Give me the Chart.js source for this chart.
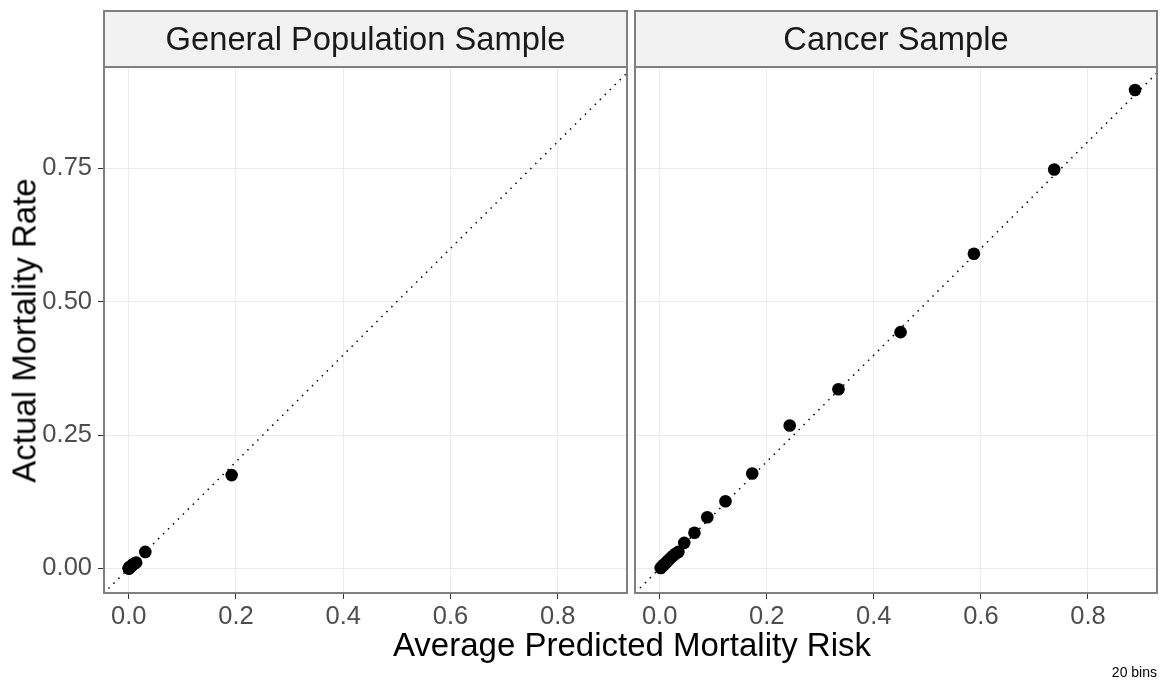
<!DOCTYPE html>
<html lang="en">
<head>
    <meta charset="UTF-8">
    <title>Calibration by Sample</title>
    <script src="https://cdn.jsdelivr.net/npm/chart.js"></script>
    <style>
        body {
            margin: 0;
            width: 1160px;
            height: 681px;
            position: relative;
            overflow: hidden;
            background: #ffffff;
            font-family: "Liberation Sans", Arial, sans-serif;
        }
        .panel { position: absolute; top: 0; height: 681px; }
        #genPanel { left: 0; width: 630px; }
        #cancerPanel { left: 630px; width: 530px; }
        .axis-title {
            position: absolute;
            font-size: 33px;
            line-height: 33px;
            color: #000000;
            white-space: nowrap;
            text-align: center;
        }
        #xTitle { left: 232px; width: 800px; top: 628px; }
        #yTitle { left: -176px; width: 400px; top: 314px; transform: rotate(-90deg); }
        #caption {
            position: absolute;
            right: 3px;
            top: 665px;
            font-size: 14px;
            line-height: 14px;
            color: #000000;
        }
    </style>
</head>
<body>
    <div class="panel" id="genPanel"><canvas id="genChart"></canvas></div>
    <div class="panel" id="cancerPanel"><canvas id="cancerChart"></canvas></div>
    <div class="axis-title" id="xTitle">Average Predicted Mortality Risk</div>
    <div class="axis-title" id="yTitle">Actual Mortality Rate</div>
    <div id="caption">20 bins</div>

    <script>
        // binned calibration data: mean predicted risk vs observed rate per bin
        const genPredicted = [0.0002, 0.0004, 0.0006, 0.0008, 0.0010, 0.0012, 0.0015, 0.0018, 0.0021, 0.0025,
                              0.0030, 0.0036, 0.0044, 0.0054, 0.0067, 0.0085, 0.0110, 0.0140, 0.0310, 0.1920];
        const genObserved  = [0.0000, 0.0003, 0.0005, 0.0007, 0.0009, 0.0011, 0.0014, 0.0016, 0.0020, 0.0023,
                              0.0028, 0.0034, 0.0041, 0.0050, 0.0062, 0.0078, 0.0095, 0.0110, 0.0310, 0.1750];

        const cancerPredicted = [0.002, 0.005, 0.008, 0.011, 0.015, 0.019, 0.024, 0.029, 0.035, 0.046,
                                 0.065, 0.089, 0.123, 0.173, 0.243, 0.334, 0.450, 0.587, 0.737, 0.888];
        const cancerObserved  = [0.001, 0.004, 0.007, 0.010, 0.014, 0.018, 0.023, 0.027, 0.031, 0.048,
                                 0.067, 0.096, 0.126, 0.178, 0.268, 0.336, 0.443, 0.590, 0.748, 0.897];

        const panelLabels = ['General Population Sample', 'Cancer Sample'];

        // y = x reference line, clipped by the chart area
        const refLine = [-1, 2];

        const xTickValues = [0, 0.2, 0.4, 0.6, 0.8];
        const xTickLabels = ['0.0', '0.2', '0.4', '0.6', '0.8'];
        const yTickValues = [0, 0.25, 0.5, 0.75];
        const yTickLabels = ['0.00', '0.25', '0.50', '0.75'];

        const xRange = [-0.046, 0.929];
        const yRange = [-0.046, 0.940];

        Chart.defaults.font.family = '"Liberation Sans", Arial, sans-serif';

        // facet strip on top of the panel plus the panel border
        const panelFrame = {
            id: 'panelFrame',
            afterDraw(chart, args, opts) {
                const { ctx, chartArea: a } = chart;
                const stripTop = 11;
                ctx.save();
                ctx.fillStyle = '#f2f2f2';
                ctx.fillRect(a.left, stripTop, a.right - a.left, a.top - stripTop);
                ctx.strokeStyle = '#7f7f7f';
                ctx.lineWidth = 2;
                ctx.strokeRect(a.left, stripTop, a.right - a.left, a.top - stripTop);
                ctx.strokeRect(a.left, a.top, a.right - a.left, a.bottom - a.top);
                ctx.fillStyle = '#1a1a1a';
                ctx.font = '32.7px "Liberation Sans", Arial, sans-serif';
                ctx.textAlign = 'center';
                ctx.textBaseline = 'alphabetic';
                ctx.fillText(opts.label, (a.left + a.right) / 2, 50);
                ctx.restore();
            }
        };

        function makePanel(canvasId, label, xs, ys, showY) {
            const points = xs.map((x, i) => ({ x: x, y: ys[i] }));
            const diag = refLine.map(v => ({ x: v, y: v }));
            return new Chart(document.getElementById(canvasId), {
                type: 'scatter',
                data: {
                    datasets: [{
                        type: 'line',
                        data: diag,
                        borderColor: '#000000',
                        borderWidth: 1.5,
                        borderDash: [1.5, 5.5],
                        pointRadius: 0,
                        fill: false,
                        clip: 0
                    }, {
                        data: points,
                        backgroundColor: '#000000',
                        borderWidth: 0,
                        pointRadius: 6.3
                    }]
                },
                options: {
                    responsive: true,
                    maintainAspectRatio: false,
                    animation: false,
                    layout: { autoPadding: false, padding: { top: 67, right: 3, bottom: 0, left: 0 } },
                    plugins: {
                        legend: { display: false },
                        tooltip: { enabled: false },
                        panelFrame: { label: label }
                    },
                    scales: {
                        x: {
                            type: 'linear',
                            min: xRange[0],
                            max: xRange[1],
                            afterBuildTicks: scale => { scale.ticks = xTickValues.map(v => ({ value: v })); },
                            afterFit: scale => { scale.height = 88; scale.paddingLeft = 0; scale.paddingRight = 0; },
                            border: { display: false },
                            grid: { color: '#ebebeb', lineWidth: 1, tickColor: '#333333', tickLength: 6 },
                            ticks: {
                                callback: (value, index) => xTickLabels[index],
                                color: '#4d4d4d',
                                font: { size: 25.5 },
                                padding: 3,
                                maxRotation: 0
                            }
                        },
                        y: {
                            type: 'linear',
                            min: yRange[0],
                            max: yRange[1],
                            afterBuildTicks: scale => { scale.ticks = yTickValues.map(v => ({ value: v })); },
                            afterFit: scale => { scale.width = showY ? 104 : 5; scale.paddingTop = 0; scale.paddingBottom = 0; },
                            border: { display: false },
                            grid: { color: '#ebebeb', lineWidth: 1, tickColor: '#333333', tickLength: 6, drawTicks: showY },
                            ticks: {
                                display: showY,
                                callback: (value, index) => yTickLabels[index],
                                color: '#4d4d4d',
                                font: { size: 25.5 },
                                padding: 6
                            }
                        }
                    }
                },
                plugins: [panelFrame]
            });
        }

        makePanel('genChart', panelLabels[0], genPredicted, genObserved, true);
        makePanel('cancerChart', panelLabels[1], cancerPredicted, cancerObserved, false);
    </script>
</body>
</html>
